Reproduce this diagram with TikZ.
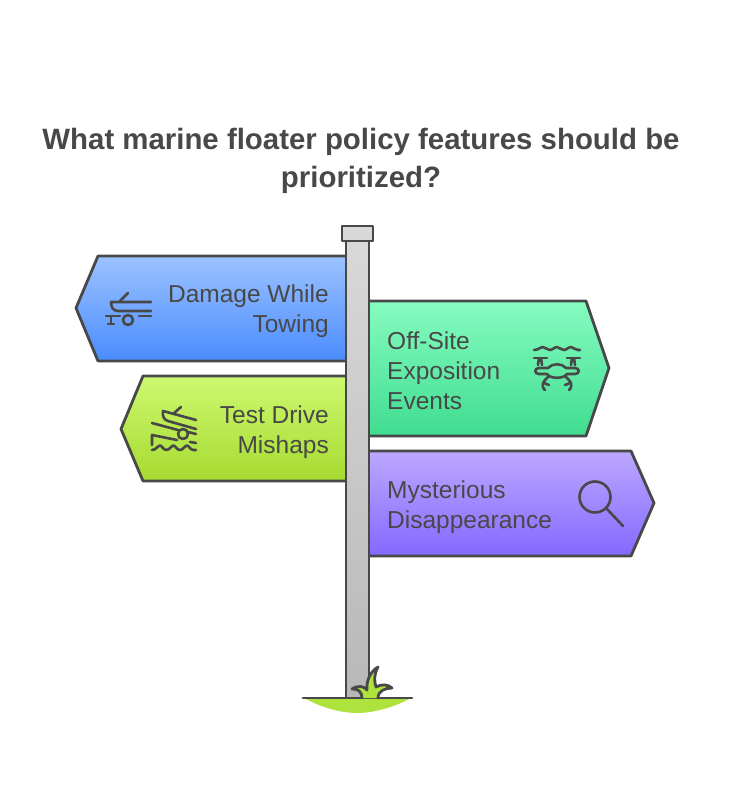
\documentclass[tikz,border=0pt]{standalone}
\usepackage{fontspec}
\setmainfont{Liberation Sans}
\definecolor{inkgray}{HTML}{484848}
\definecolor{bluetop}{HTML}{9CC2FF}
\definecolor{bluebot}{HTML}{4A8CFF}
\definecolor{limetop}{HTML}{CDF970}
\definecolor{limebot}{HTML}{A6DA30}
\definecolor{minttop}{HTML}{86FCC0}
\definecolor{mintbot}{HTML}{40DC90}
\definecolor{violettop}{HTML}{BCA8FF}
\definecolor{violetbot}{HTML}{8468FF}
\definecolor{posttop}{HTML}{D8D8D8}
\definecolor{postbot}{HTML}{B8B8B8}
\definecolor{grassfill}{HTML}{AEE23C}
\tikzset{
  signbox/.style={draw=inkgray, line width=2.8pt, line join=round},
  signtext/.style={text=inkgray, inner sep=0pt, font=\fontsize{24.5}{30}\selectfont},
  icon/.style={draw=inkgray, line width=2.6pt, line cap=round, line join=round},
}
\begin{document}
\begin{tikzpicture}[x=1pt, y=-1pt]
    \useasboundingbox (0,0) rectangle (730,798);

    % Title
    \node[text=inkgray, align=center, inner sep=0pt, anchor=base, font=\fontsize{29.4}{38}\selectfont\bfseries] (title) at (361,187) {What marine floater policy features should be\\prioritized?};

    % Signs on the left
    \draw[signbox, top color=bluetop, bottom color=bluebot] (350,256) -- (98,256) -- (76,308) -- (98,361) -- (350,361) -- cycle;
    \draw[signbox, top color=limetop, bottom color=limebot] (350,376) -- (143,376) -- (121,429) -- (143,481) -- (350,481) -- cycle;

    % Signs on the right
    \draw[signbox, top color=minttop, bottom color=mintbot] (365,301) -- (586,301) -- (609,368) -- (586,436) -- (365,436) -- cycle;
    \draw[signbox, top color=violettop, bottom color=violetbot] (365,451) -- (631,451) -- (654,503) -- (631,556) -- (365,556) -- cycle;

    % Post
    \draw[signbox, top color=posttop, bottom color=postbot] (346,240) rectangle (369,698);
    \draw[signbox, fill=posttop] (342,226) rectangle (373,241);

    % Labels
    \node[signtext, align=right, anchor=east] (damage) at (329,311.5) {Damage While\\Towing};
    \node[signtext, align=right, anchor=east] (testdrive) at (329,432) {Test Drive\\Mishaps};
    \node[signtext, align=left, anchor=west] (offsite) at (387,370.5) {Off-Site\\Exposition\\Events};
    \node[signtext, align=left, anchor=west] (mystery) at (387,507) {Mysterious\\Disappearance};

    % Boat on trailer
    \draw[icon] (128,293) -- (120,301);
    \draw[icon] (151,302) -- (111,302) .. controls (111,307) and (113,311) .. (118,311) -- (151,311);
    \draw[icon] (106,316) -- (120,316);
    \draw[icon] (139,316) -- (151,316);
    \draw[icon] (111,316) -- (111,324);
    \draw[icon] (108,324) -- (114,324);
    \draw[icon] (128,320) circle (5);

    % Boat on ramp
    \draw[icon] (181,407) -- (173,414);
    \draw[icon] (196,420) -- (163,411) .. controls (162,416) and (164,420) .. (168,421) -- (196,429);
    \draw[icon] (152,423) -- (178,430);
    \draw[icon] (188,432) -- (196,434);
    \draw[icon] (152,445) -- (152,435) -- (177,440);
    \draw[icon] (190,442) -- (196,443);
    \draw[icon] (183,434) circle (5);
    \draw[icon] (152,450) \foreach \w in {0,13.5,27} { .. controls (156+\w,450) and (158+\w,445.5) .. (160+\w,445.5) .. controls (162+\w,445.5) and (163+\w,450) .. (166.5+\w,450) } -- (196,450);

    % Drone over water
    \draw[icon] (534,350) \foreach \w in {0,14,28} { .. controls (538+\w,350) and (541+\w,347) .. (543+\w,347) .. controls (545+\w,347) and (547+\w,350) .. (550+\w,350) } -- (580,350);
    \foreach \s/\b in {534/547,567/580} {
        \draw[icon] (\s,358) -- (\b,358);
    }
    \draw[icon] (539,358) -- (538,365) (541,358) -- (542,365);
    \draw[icon] (572,358) -- (571,365) (574,358) -- (575,365);
    \draw[icon] (548,368) -- (539,368) .. controls (534,368) and (534,374) .. (539,374) -- (547,374) .. controls (550,379) and (564,379) .. (567,374) -- (575,374) .. controls (580,374) and (580,368) .. (575,368) -- (566,368) .. controls (562,363) and (552,363) .. (548,368);
    \draw[icon] (549,376) -- (545,380) .. controls (541,384) and (543,389) .. (545,390);
    \draw[icon] (544,383) -- (549,385);
    \draw[icon] (565,376) -- (569,380) .. controls (573,384) and (571,389) .. (569,390);
    \draw[icon] (570,383) -- (565,385);

    % Magnifying glass
    \draw[icon] (595,497) circle (15.5);
    \draw[icon] (606,508) -- (623,526);

    % Ground and grass
    \fill[grassfill] (304,698) .. controls (322,708) and (342,713) .. (357,713) .. controls (372,713) and (393,708) .. (411,698) -- cycle;
    \draw[signbox, line cap=round] (303,698) -- (412,698);
    \draw[signbox, line cap=round, fill=grassfill] (362,698) .. controls (362,692) and (358,688.5) .. (352,689) .. controls (358,685) and (364,686) .. (367,690) .. controls (366,680) and (371,671) .. (378,667) .. controls (374,674) and (374,681) .. (376,687) .. controls (381,684) and (388,684) .. (392,688) .. controls (385,688) and (378,691) .. (378,698);
\end{tikzpicture}
\end{document}
